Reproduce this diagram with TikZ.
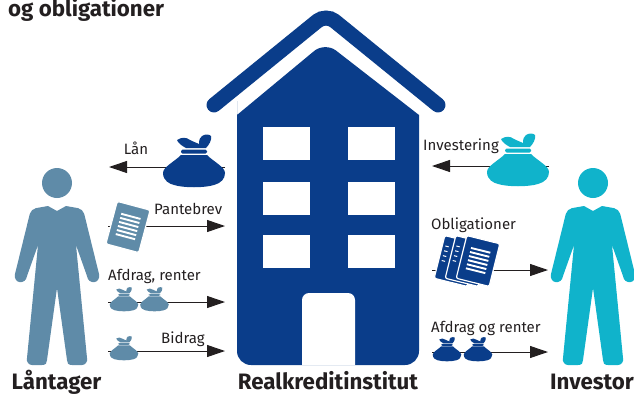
\documentclass[tikz,border=0pt]{standalone}
\usepackage{fontspec}
\setmainfont{Fira Sans}
\usetikzlibrary{arrows.meta}
\definecolor{navy}{HTML}{0A3D8A}
\definecolor{slate}{HTML}{5F8BA8}
\definecolor{teal2}{HTML}{10B3CB}
\definecolor{ink}{HTML}{231F20}
\tikzset{flow/.style={draw=ink, line width=1pt, -{Triangle[length=18pt,width=12pt]}},
label/.style={text=ink, font=\fontsize{15}{16}\selectfont, inner sep=0pt},
title/.style={text=ink, font=\fontsize{22.3}{23}\selectfont\bfseries, inner sep=0pt},
pics/moneybag/.style={code={
  \fill[#1] (-13,-12) .. controls (-20,-5) and (-31,0) .. (-31,6) .. controls (-31,14) and (-24,17) .. (-20,18) .. controls (-10,21) and (10,21) .. (20,18) .. controls (27,16) and (31,12) .. (31,6) .. controls (31,0) and (20,-5) .. (13,-12) -- cycle;
  \fill[#1,rounded corners=1.5pt] (-13,-17.5) rectangle (13,-13.5);
  \fill[#1] (-17,-27) .. controls (-12,-30) and (-8,-30) .. (-4,-27) .. controls (0,-25) and (3,-24) .. (5,-23) .. controls (5,-27) and (6,-30) .. (8,-31) .. controls (11,-33) and (15,-33) .. (17,-31) .. controls (18,-27) and (15,-22) .. (12,-19) -- (-8,-19) .. controls (-12,-21) and (-16,-24) .. (-17,-27) -- cycle;
}},
pics/paper/.style={code={
  \filldraw[fill=#1,draw=white,line width=1.2pt,rounded corners=2pt] (-17,-22) rectangle (17,22);
  \foreach \y in {-11,-6.8,-2.6,1.6,5.8,10}
     \draw[white,line width=1.9pt] (-10,\y) -- (10,\y);
}},
pics/sheet/.style={code={
  \filldraw[fill=#1,draw=white,line width=1.2pt,rounded corners=2pt] (-17,-22) rectangle (17,22);
  \foreach \y in {-12,-7,-2,3}
     \draw[white,line width=1pt] (-14,\y) -- (-10.5,\y);
}},
pics/person/.style={code={
  \fill[#1] (0,183) circle (15);
  \fill[#1] (0,211) -- (-9,206) [rounded corners=5pt] -- (-26,209) [sharp corners] -- (-42,274) .. controls (-44,284) and (-31,285) .. (-30,276) -- (-19,245) -- (-30,358) .. controls (-31,362) and (-28,365) .. (-25,365) -- (-15,365) .. controls (-11,365) and (-10,363) .. (-10,360) -- (0,288) -- (10,360) .. controls (10,363) and (11,365) .. (15,365) -- (25,365) .. controls (28,365) and (31,362) .. (30,358) -- (19,245) -- (30,276) .. controls (31,285) and (44,284) .. (42,274) [rounded corners=5pt] -- (26,209) [sharp corners] -- (9,206) -- cycle;
}}}

\begin{document}
\begin{tikzpicture}[x=1pt,y=-1pt]
\useasboundingbox (0,0) rectangle (634,394);

% building
\draw[navy,line width=15pt,line cap=round,rounded corners=11pt] (214,105) -- (326,14) -- (438,105);
\fill[navy,rounded corners=14pt] (237,115) [sharp corners] -- (237,115) [rounded corners=14pt] -- (325,42) [sharp corners] -- (419,115) [rounded corners=14pt] -- (419,365) -- (237,365) -- cycle;
\foreach \wx in {263,348}
  \foreach \wy in {127,182,235}
     \fill[white] (\wx,\wy) rectangle +(47,33);
\fill[white] (302,365) [rounded corners=7pt] -- (302,293) -- (355,293) [sharp corners] -- (355,365) -- cycle;

% ends of the arrows
\coordinate (lanA) at (225,167);
\coordinate (lanB) at (109,167);
\coordinate (panteA) at (108,226);
\coordinate (panteB) at (225,226);
\coordinate (afdragA) at (108,302);
\coordinate (afdragB) at (225,302);
\coordinate (bidragA) at (108,351);
\coordinate (bidragB) at (225,351);
\coordinate (investA) at (549,166);
\coordinate (investB) at (432,166);
\coordinate (obligA) at (432,270);
\coordinate (obligB) at (548,270);
\coordinate (rentA) at (432,352);
\coordinate (rentB) at (548,352);
\foreach \a/\b in {lanA/lanB,panteA/panteB,afdragA/afdragB,bidragA/bidragB,investA/investB,obligA/obligB,rentA/rentB}
     \draw[flow] (\a) -- (\b);

% bags
\pic at (194,167) {moneybag=navy};
\pic at (518,166) {moneybag=teal2};
\foreach \bx/\by in {124/302,154.5/302,124/351}
     \pic[scale=0.46] at (\bx,\by) {moneybag=slate};
\foreach \bx in {447,478}
     \pic[scale=0.46] at (\bx,352) {moneybag=navy};

% papers
\pic[rotate=-15] at (128,227) {paper=slate};
\pic[rotate=-14] at (456,261) {sheet=navy};
\pic[rotate=-14] at (467,261) {sheet=navy};
\pic[rotate=-14] at (478,261) {paper=navy};

% people
\pic at (57,0) {person=slate};
\pic at (593,0) {person=teal2};

%labels
\node[label] (lan) at (136,148) {Lån};
\node[label,anchor=west] (pantebrev) at (154,209) {Pantebrev};
\node[label,anchor=west] (afdrag) at (108,276) {Afdrag, renter};
\node[label,anchor=west] (bidrag) at (161,339) {Bidrag};
\node[label,anchor=west] (investering) at (423,146) {Investering};
\node[label,anchor=west] (obligationer) at (431,225) {Obligationer};
\node[label,anchor=west] (afdragrenter) at (431,328) {Afdrag og renter};
\node[title,anchor=base west] (heading) at (8,16) {og obligationer};
\node[title,anchor=base] (laantager) at (56.5,389) {Låntager};
\node[title,anchor=base] (institut) at (328,389) {Realkreditinstitut};
\node[title,anchor=base east] (investor) at (634,389) {Investor};
\end{tikzpicture}
\end{document}
